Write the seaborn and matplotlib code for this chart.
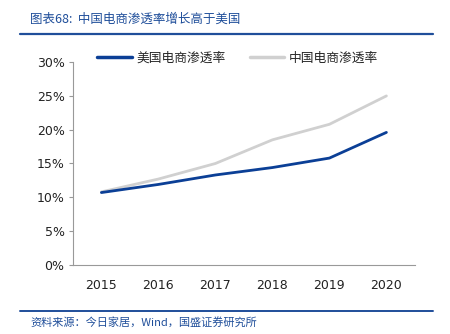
import matplotlib
matplotlib.use("Agg")
import matplotlib.pyplot as plt
import seaborn as sns
import pandas as pd
from matplotlib.lines import Line2D

years = [2015, 2016, 2017, 2018, 2019, 2020]
us_rate = [10.7, 11.9, 13.3, 14.4, 15.8, 19.6]
cn_rate = [10.8, 12.7, 15.0, 18.5, 20.8, 25.0]
series_names = ["美国电商渗透率", "中国电商渗透率"]
y_ticks = [0, 5, 10, 15, 20, 25, 30]
title_text = "图表68:  中国电商渗透率增长高于美国"
source_text = "资料来源：今日家居，Wind，国盛证券研究所"

sns.set_theme(style="white")
plt.rcParams['font.family'] = ['DejaVu Sans', 'Noto Sans CJK SC']

df = pd.DataFrame({
    "year": years * 2,
    "rate": us_rate + cn_rate,
    "series": [series_names[0]] * len(years) + [series_names[1]] * len(years),
})

us_color = "#0B3F96"
cn_color = "#D0D0D0"
text_blue = "#1F4E9A"

fig = plt.figure(figsize=(4.5, 3.34), dpi=100)
ax = fig.add_axes([0.162, 0.207, 0.760, 0.607])

sns.lineplot(data=df, x="year", y="rate", hue="series",
             palette={series_names[0]: us_color, series_names[1]: cn_color},
             hue_order=[series_names[1], series_names[0]],
             linewidth=2.0, ax=ax, legend=False)

ax.set_xlim(years[0] - 0.5, years[-1] + 0.5)
ax.set_ylim(0, 30)
ax.set_yticks(y_ticks)
ax.set_yticklabels([f"{v}%" for v in y_ticks], fontsize=9, color="#222222")
ax.set_xticks(years)
ax.set_xticklabels([str(y) for y in years], fontsize=9, color="#222222")
ax.set_xticks([y - 0.5 for y in years] + [years[-1] + 0.5], minor=True)
ax.tick_params(axis="x", which="major", length=0, pad=10)
ax.tick_params(axis="x", which="minor", length=3, direction="in", color="#999999", width=0.8)
ax.tick_params(axis="y", which="major", length=3, direction="out", color="#999999", width=0.8, pad=3, left=True)
ax.set_xlabel("")
ax.set_ylabel("")
for s in ["top", "right"]:
    ax.spines[s].set_visible(False)
for s in ["left", "bottom"]:
    ax.spines[s].set_color("#999999")
    ax.spines[s].set_linewidth(0.8)

handles = [Line2D([], [], color=us_color, lw=2.5), Line2D([], [], color=cn_color, lw=2.5)]
fig.legend(handles, series_names, loc="center left", bbox_to_anchor=(0.19, 0.827),
           ncol=2, frameon=False, handlelength=2.7, handletextpad=0.35,
           columnspacing=1.9, prop={'family': ['Noto Sans CJK SC'], 'size': 9.2})

fig.text(0.067, 0.943, title_text, fontsize=9, color=text_blue, va="center",
         family=['Noto Sans CJK SC'], style="italic")
fig.add_artist(Line2D([0.045, 0.962], [0.898, 0.898], color="#1F4E9A", lw=1.6))
fig.add_artist(Line2D([0.045, 0.962], [0.069, 0.069], color="#1F4E9A", lw=1.4))
fig.text(0.067, 0.035, source_text, fontsize=8, color=text_blue, va="center",
         family=['Noto Sans CJK SC'], style="italic")

fig.savefig("out.png", dpi=100)
